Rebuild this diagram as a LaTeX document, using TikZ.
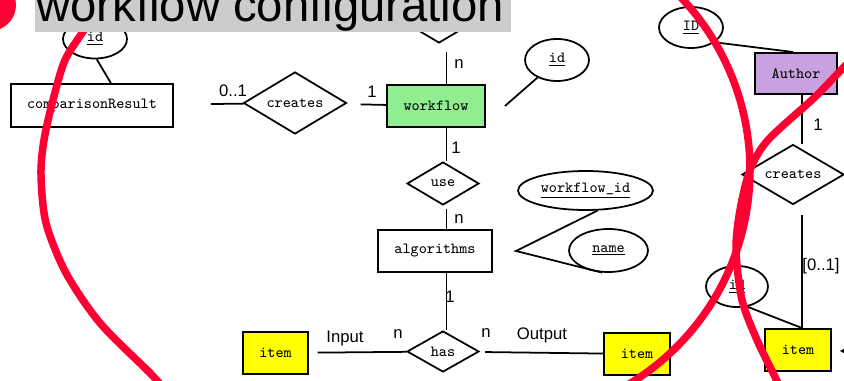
\documentclass[tikz,border=0pt]{standalone}
\usepackage{fontspec}
\newfontfamily\labelfont{Liberation Sans}
\usetikzlibrary{shapes.geometric,arrows.meta}

\definecolor{wfgreen}{RGB}{144,238,144}
\definecolor{authorpurple}{RGB}{200,162,224}
\definecolor{itemyellow}{RGB}{255,255,0}
\definecolor{markred}{RGB}{255,0,51}
\definecolor{titlegray}{RGB}{204,204,204}

\tikzset{
	entity/.style={draw, rectangle, line width=1.1pt, inner sep=0pt, font=\fontsize{8.8}{10}\ttfamily},
	relation/.style={draw, diamond, line width=1pt, inner sep=0pt, shape aspect=1.67, font=\fontsize{8.8}{10}\ttfamily},
	attribute/.style={draw, ellipse, line width=1pt, inner sep=0pt, font=\fontsize{8.8}{10}\ttfamily},
	conn/.style={line width=1pt},
	card/.style={inner sep=0pt, font=\fontsize{9.5}{10}\labelfont},
	redstroke/.style={markred, line width=0.15cm, line cap=round},
}

\begin{document}
\begin{tikzpicture}[x=0.02cm, y=-0.02cm]
			\useasboundingbox (0,0) rectangle (844,381);

			% Draw entities
			\node[entity, minimum width=3.24cm, minimum height=0.86cm] (compRes) at (92,105.5) {comparisonResult};
			\node[entity, fill=wfgreen, minimum width=1.96cm, minimum height=0.84cm] (workflow) at (436,106) {workflow};
			\node[entity, minimum width=2.28cm, minimum height=0.84cm] (algorithms) at (435,251) {algorithms};
			\node[entity, fill=itemyellow, minimum width=1.3cm, minimum height=0.84cm] (itemIn) at (275.5,353) {item};
			\node[entity, fill=itemyellow, minimum width=1.32cm, minimum height=0.84cm] (itemOut) at (637,354) {item};
			\node[entity, fill=authorpurple, minimum width=1.64cm, minimum height=0.82cm] (author) at (796,73.5) {Author};
			\node[entity, fill=itemyellow, minimum width=1.32cm, minimum height=0.84cm] (itemRight) at (798,350) {item};

			% Draw relations
			\node[relation, minimum width=2.06cm, minimum height=1.24cm] (createsLeft) at (295,103) {creates};
			\node[relation, minimum width=1.44cm, minimum height=0.86cm] (topRel) at (439,21.5) {};
			\node[relation, minimum width=1.44cm, minimum height=0.86cm] (use) at (443,183.5) {use};
			\node[relation, minimum width=1.44cm, minimum height=0.82cm] (has) at (443,351.5) {has};
			\node[relation, minimum width=2.04cm, minimum height=1.2cm] (createsRight) at (793,174.5) {creates};

			% Draw attributes
			\node[attribute, minimum width=1.28cm, minimum height=0.78cm] (idComp) at (95,39) {\underline{id}};
			\node[attribute, minimum width=1.28cm, minimum height=0.84cm] (idWorkflow) at (557,60) {\underline{id}};
			\node[attribute, minimum width=2.7cm, minimum height=0.78cm] (workflowId) at (585.5,190.5) {\underline{workflow\_id}};
			\node[attribute, minimum width=1.58cm, minimum height=0.86cm] (name) at (608.5,250.5) {\underline{name}};
			\node[attribute, minimum width=1.28cm, minimum height=0.82cm] (idAuthor) at (691,27.5) {\underline{ID}};
			\node[attribute, minimum width=1.24cm, minimum height=0.82cm] (idItem) at (737,286.5) {\underline{id}};

			% Draw connectors
			\coordinate (colMid) at (446.5,0);
			\coordinate (colRight) at (802,0);
			\coordinate (offRight) at (852,351);
			\draw[conn] (idComp.-85) -- (compRes.50);
			\draw[conn, shorten <=21pt] (compRes) -- (createsLeft);
			\draw[conn, shorten <=8.5pt] (createsLeft) -- (workflow);
			\draw[conn, shorten <=4.5pt] (topRel.south -| colMid) -- (workflow.north -| colMid);
			\draw[conn] (workflow.south -| colMid) -- (use.north -| colMid);
			\draw[conn, shorten <=2pt] (use.south -| colMid) -- (algorithms.north -| colMid);
			\draw[conn] (algorithms.south -| colMid) -- (has.north -| colMid);
			\draw[conn, shorten <=5pt] (itemIn) -- (has);
			\draw[conn, shorten <=3.4pt] (has) -- (itemOut);
			\draw[conn] ([xshift=0.38cm]workflow.east) -- (idWorkflow.222);
			\draw[conn] (workflowId.-59) -- ([xshift=0.46cm]algorithms.east) -- (name.-106);
			\draw[conn] (idAuthor.-32) -- ([xshift=-0.06cm]author.north);
			\draw[conn] (author.south -| colRight) -- (createsRight.north -| colRight);
			\draw[conn, shorten <=5.7pt] (createsRight.south -| colRight) -- (itemRight.north -| colRight);
			\draw[conn] (idItem.-63) -- (itemRight.north -| colRight);
			\draw[conn, -{Triangle[length=3pt,width=3pt]}, shorten >=4.5pt] (offRight) -- (itemRight.east |- offRight);

			% Draw cardinalities
			\node[card] (cardComp) at (233,91) {0..1};
			\node[card] (cardCreates) at (372,92) {1};
			\node[card] (cardTop) at (459,64) {n};
			\node[card] (cardUseTop) at (456,148) {1};
			\node[card] (cardUseBottom) at (459,219) {n};
			\node[card] (cardAlgo) at (450,297) {1};
			\node[card] (cardHasLeft) at (398,334) {n};
			\node[card] (cardHasRight) at (486,333) {n};
			\node[card] (input) at (345,338) {Input};
			\node[card] (output) at (542,335) {Output};
			\node[card] (cardAuthor) at (818,125) {1};
			\node[card] (cardItem) at (821,266) {[0..1]};

			% Draw red marks
			\begin{scope}
				\clip (0,0) rectangle (844,381);
				\fill[markred] (-10,5) circle (0.52cm);
				\draw[redstroke] plot[smooth] coordinates {(92,15) (84,30) (65,60) (53,100) (44,140) (41,175) (46,223) (66,273) (100,323) (150,373) (165,390)};
				\draw[redstroke, domain=-50:68, samples=80] plot ({500+250*cos(\x)}, {170+250*sin(\x)});
				\draw[redstroke] plot[smooth] coordinates {(862,50) (844,67) (815,97) (768,140) (750,170) (740,210) (736,250) (742,300) (757,340) (777,381) (783,395)};
			\end{scope}

			% Draw title bar
			\fill[titlegray] (35,-2) rectangle (511,32);
			\node[anchor=base west, inner sep=0pt, font=\fontsize{26.9}{30}\labelfont] (title) at (36,22) {workflow configuration};
\end{tikzpicture}
\end{document}
